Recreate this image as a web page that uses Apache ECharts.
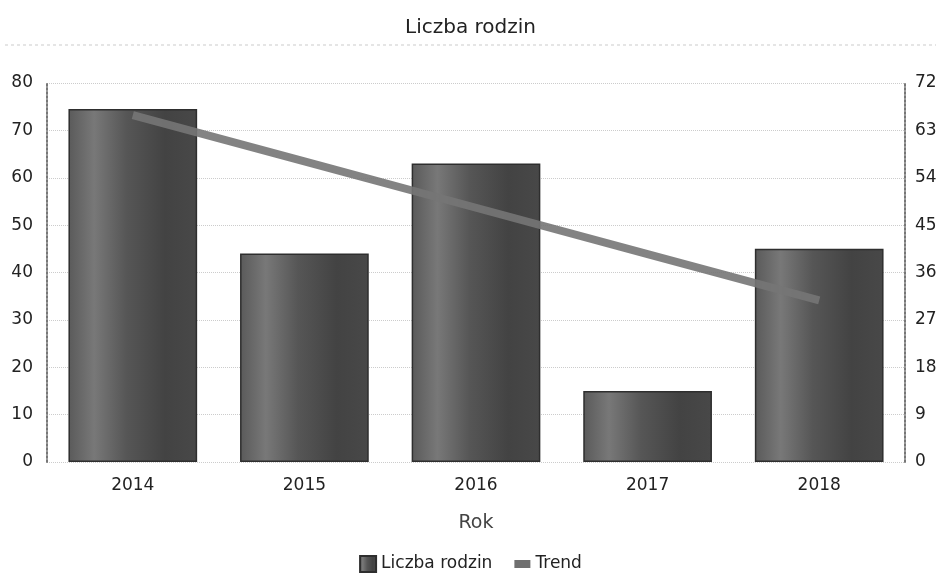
<!DOCTYPE html>
<html><head><meta charset="utf-8">
<script src="https://cdn.jsdelivr.net/npm/echarts@6/dist/echarts.min.js"></script>
<style>html,body{margin:0;padding:0;background:#fff}#c{width:941px;height:580px}</style>
</head><body><div id="c"></div>
<script>
const categories = ['2014','2015','2016','2017','2018'];
const liczbaRodzin = [74.5, 44, 63, 15, 45];
const trend = [65.9, 57.1, 48.3, 39.5, 30.7];
const leftTicks = {min:0, max:80, interval:10};
const rightTicks = {min:0, max:72, interval:9};

const chart = echarts.init(document.getElementById('c'));
const font = 'DejaVu Sans';
const barGrad = new echarts.graphic.LinearGradient(0,0,1,0,[
  {offset:0, color:'#5a5a5a'},
  {offset:0.2, color:'#787878'},
  {offset:0.45, color:'#565656'},
  {offset:0.75, color:'#434343'},
  {offset:1, color:'#484848'}
]);
chart.setOption({
  backgroundColor:'#fff',
  animation:false,
  textStyle:{fontFamily:font},
  title:{text:'Liczba rodzin', left:'center', top:13, textStyle:{fontFamily:font, fontSize:20, fontWeight:'normal', color:'#222'}},
  graphic:[{type:'line', shape:{x1:5,y1:45,x2:936,y2:45}, style:{stroke:'#ccc', lineWidth:1, lineDash:[3,3]}}],
  legend:{bottom:2, left:'center', itemWidth:16, itemHeight:16, itemGap:22,
    textStyle:{fontFamily:font, fontSize:17, color:'#222'},
    data:[{name:'Liczba rodzin', icon:'rect'},{name:'Trend', icon:'path://M0,3 L16,3 L16,11 L0,11 Z', itemStyle:{color:'#6f6f6f'}}]},
  grid:{left:47, right:36, top:83, bottom:118},
  xAxis:{type:'category', data:categories, name:'Rok', nameLocation:'middle', nameGap:52,
    nameTextStyle:{fontFamily:font, fontSize:19, color:'#444'},
    axisLine:{show:false}, axisTick:{show:false},
    axisLabel:{fontFamily:font, fontSize:17, color:'#222', margin:15}},
  yAxis:[
    {type:'value', min:leftTicks.min, max:leftTicks.max, interval:leftTicks.interval, position:'left',
     axisLine:{show:true, lineStyle:{color:'#777', type:'dotted', width:2}},
     axisTick:{show:false},
     axisLabel:{fontFamily:font, fontSize:17, color:'#222', margin:14},
     splitLine:{show:true, lineStyle:{color:'#ccc', type:'dotted'}}},
    {type:'value', min:rightTicks.min, max:rightTicks.max, interval:rightTicks.interval, position:'right',
     axisLine:{show:true, lineStyle:{color:'#777', type:'dotted', width:2}},
     axisTick:{show:false},
     axisLabel:{fontFamily:font, fontSize:17, color:'#222', margin:10},
     splitLine:{show:false}}
  ],
  series:[
    {name:'Liczba rodzin', type:'bar', data:liczbaRodzin, yAxisIndex:0, barWidth:'75%',
     itemStyle:{color:barGrad, borderColor:'#2e2e2e', borderWidth:1.5}},
    {name:'Trend', type:'line', data:trend, yAxisIndex:1, symbol:'none', z:5,
     lineStyle:{color:'#757575', width:8, opacity:0.9}, itemStyle:{color:'#6f6f6f'}}
  ]
});
</script></body></html>
